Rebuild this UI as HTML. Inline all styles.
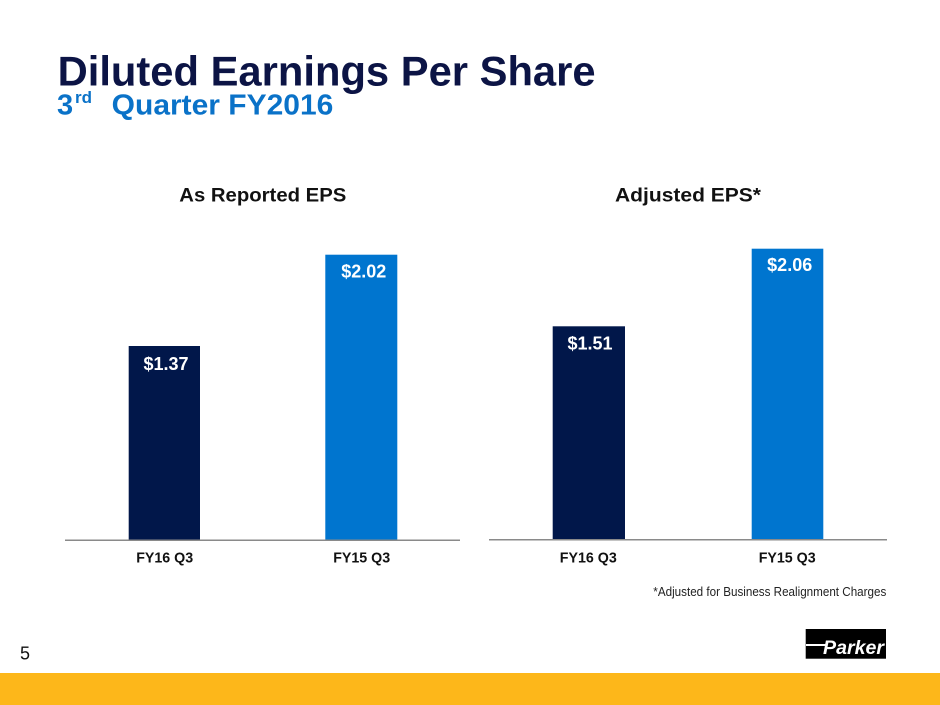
<!DOCTYPE html>
<html>
<head>
<meta charset="utf-8">
<style>
  html, body { margin: 0; padding: 0; background: #ffffff; }
  body { width: 940px; height: 705px; overflow: hidden; }
  svg { display: block; font-family: "Liberation Sans", Arial, sans-serif; }
</style>
</head>
<body>
<svg width="940" height="705" viewBox="0 0 940 705" xmlns="http://www.w3.org/2000/svg">
  <rect x="0" y="0" width="940" height="705" fill="#ffffff"/>

  <!-- Title -->
  <text x="57.6" y="85.5" font-size="41.5" font-weight="bold" fill="#0c1445" textLength="538" lengthAdjust="spacingAndGlyphs">Diluted Earnings Per Share</text>
  <!-- Subtitle -->
  <text x="57" y="114.3" font-size="29" font-weight="bold" fill="#0a72c8">3</text>
  <text x="75" y="103" font-size="17" font-weight="bold" fill="#0a72c8">rd</text>
  <text x="111.7" y="114.3" font-size="29" font-weight="bold" fill="#0a72c8" textLength="221.6" lengthAdjust="spacingAndGlyphs">Quarter FY2016</text>

  <!-- Chart titles -->
  <text x="179.3" y="201.7" font-size="19" font-weight="bold" fill="#111111" textLength="167" lengthAdjust="spacingAndGlyphs">As Reported EPS</text>
  <text x="615" y="201.7" font-size="19" font-weight="bold" fill="#111111" textLength="146" lengthAdjust="spacingAndGlyphs">Adjusted EPS*</text>

  <!-- Left chart -->
  <rect x="128.7" y="346" width="71.3" height="194" fill="#01174a"/>
  <rect x="325.3" y="254.7" width="72" height="285.3" fill="#0075cf"/>
  <line x1="65" y1="540.3" x2="460" y2="540.3" stroke="#8a8a8a" stroke-width="1.5"/>
  <text x="166" y="370" font-size="18" font-weight="bold" fill="#ffffff" text-anchor="middle">$1.37</text>
  <text x="363.8" y="277.3" font-size="18" font-weight="bold" fill="#ffffff" text-anchor="middle">$2.02</text>
  <text x="164.7" y="562.3" font-size="15" font-weight="bold" fill="#111111" text-anchor="middle" textLength="57" lengthAdjust="spacingAndGlyphs">FY16 Q3</text>
  <text x="361.7" y="562.3" font-size="15" font-weight="bold" fill="#111111" text-anchor="middle" textLength="57" lengthAdjust="spacingAndGlyphs">FY15 Q3</text>

  <!-- Right chart -->
  <rect x="552.7" y="326.3" width="72.3" height="213.2" fill="#01174a"/>
  <rect x="751.7" y="248.7" width="71.6" height="290.8" fill="#0075cf"/>
  <line x1="489" y1="539.8" x2="887" y2="539.8" stroke="#8a8a8a" stroke-width="1.5"/>
  <text x="590" y="349.3" font-size="18" font-weight="bold" fill="#ffffff" text-anchor="middle">$1.51</text>
  <text x="789.7" y="271" font-size="18" font-weight="bold" fill="#ffffff" text-anchor="middle">$2.06</text>
  <text x="588.3" y="562.3" font-size="15" font-weight="bold" fill="#111111" text-anchor="middle" textLength="57" lengthAdjust="spacingAndGlyphs">FY16 Q3</text>
  <text x="787.2" y="562.3" font-size="15" font-weight="bold" fill="#111111" text-anchor="middle" textLength="57" lengthAdjust="spacingAndGlyphs">FY15 Q3</text>

  <!-- Footnote -->
  <text x="653.3" y="596" font-size="12.5" fill="#222222" textLength="233" lengthAdjust="spacingAndGlyphs">*Adjusted for Business Realignment Charges</text>

  <!-- Page number -->
  <text x="20" y="659.5" font-size="18" fill="#111111">5</text>

  <!-- Parker logo -->
  <rect x="805.7" y="629" width="80.3" height="29.7" fill="#000000"/>
  <rect x="806" y="644" width="20" height="2" fill="#ffffff"/>
  <text x="823" y="654" font-size="19" font-weight="bold" font-style="italic" fill="#ffffff" textLength="61" lengthAdjust="spacingAndGlyphs">Parker</text>

  <!-- Bottom bar -->
  <rect x="0" y="673" width="940" height="32" fill="#fdb71a"/>
</svg>
</body>
</html>
